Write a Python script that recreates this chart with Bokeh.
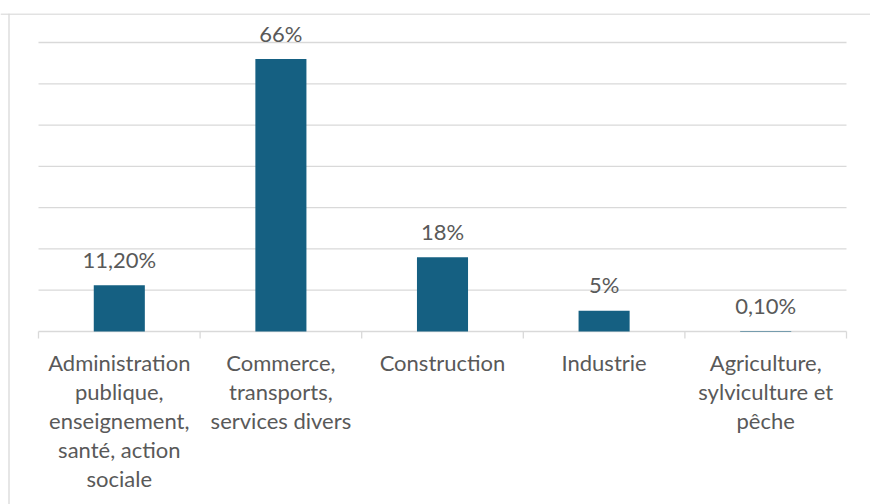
import math
from bokeh.plotting import figure
from bokeh.models import Range1d, Span, ColumnDataSource
from bokeh.core.properties import value
from bokeh.embed import file_html
from bokeh.resources import INLINE

# ---- data ----
categories = [
    "Administration publique, enseignement, santé, action sociale",
    "Commerce, transports, services divers",
    "Construction",
    "Industrie",
    "Agriculture, sylviculture et pêche",
]
category_labels = [
    "Administration\npublique,\nenseignement,\nsanté, action\nsociale",
    "Commerce,\ntransports,\nservices divers",
    "Construction",
    "Industrie",
    "Agriculture,\nsylviculture et\npêche",
]
shares = [0.112, 0.66, 0.18, 0.05, 0.001]
share_labels = ["11,20%", "66%", "18%", "5%", "0,10%"]
grid_ticks = [0.0, 0.1, 0.2, 0.3, 0.4, 0.5, 0.6, 0.7]

# ---- layout (pixels) ----
W, H = 870, 504
TOP = 13                       # chart box top
BOX_L = 8                      # chart box left
PLOT_L, PLOT_R = 38, 846       # plot area
BASE_Y, TOPGRID_Y = 331 - TOP, 42 - TOP
FRAME_H = H - TOP
n = len(categories)
px_x = (PLOT_R - PLOT_L) / n
px_y = (BASE_Y - TOPGRID_Y) / grid_ticks[-1]

x_range = Range1d(-PLOT_L / px_x, n + (W - PLOT_R) / px_x)
y_range = Range1d(-(FRAME_H - BASE_Y) / px_y, BASE_Y / px_y)

FONT = value("Lato")
FS = "22px"
TXT = "#595959"
GRID = "#d9d9d9"
BAR = "#156082"

p = figure(width=W, height=H, x_range=x_range, y_range=y_range,
           output_backend="svg", toolbar_location=None,
           min_border_top=TOP, min_border_left=0, min_border_right=0, min_border_bottom=0)
p.axis.visible = False
p.grid.visible = False
p.outline_line_color = None
p.background_fill_color = "white"
p.border_fill_color = "white"

xs = [i + 0.5 for i in range(n)]
src = ColumnDataSource(dict(x=xs, share=shares, lab=share_labels, cat=category_labels))

# gridlines and baseline
p.segment(x0=[0] * len(grid_ticks), x1=[n] * len(grid_ticks), y0=grid_ticks, y1=grid_ticks,
          line_color=GRID, line_width=1.3)
# category boundary ticks
bounds = list(range(n + 1))
p.ray(x=bounds, y=[0] * len(bounds), length=7, length_units="screen", angle=-math.pi / 2,
      line_color=GRID, line_width=1.3)

# bars
p.vbar(x="x", top="share", bottom=0, width=0.316, source=src,
       fill_color=BAR, line_color=None)

# data labels
p.text(x="x", y="share", text="lab", source=src, text_align="center",
       text_baseline="alphabetic", y_offset=-26, text_font=FONT,
       text_font_size=FS, text_color=TXT)

# category labels
p.text(x="x", y=0, text="cat", source=src, text_align="center",
       text_baseline="top", y_offset=17, text_font=FONT, text_font_size=FS,
       text_color=TXT, text_line_height=1.08)

# chart border (left & top)
p.add_layout(Span(location=x_range.start + (BOX_L + 0.5) / px_x, dimension="height",
                  line_color=GRID, line_width=1.3))
p.add_layout(Span(location=y_range.end - 0.5 / px_y, dimension="width",
                  line_color=GRID, line_width=1.3))

open("out.html", "w").write(file_html(p, INLINE))
